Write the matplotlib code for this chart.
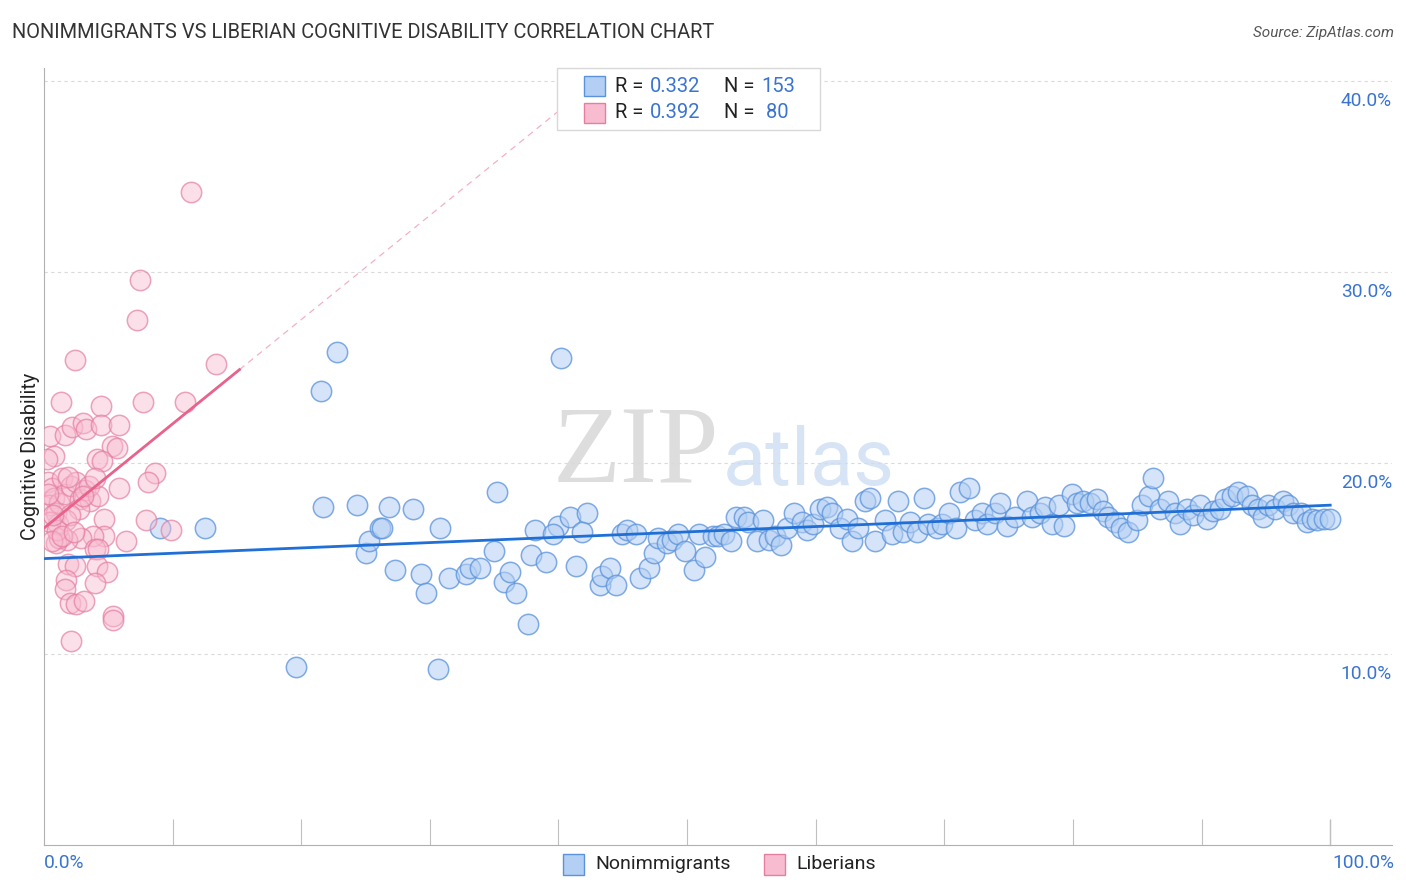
import matplotlib
matplotlib.use("Agg")
import matplotlib.pyplot as plt
from matplotlib.patches import Rectangle
from matplotlib.colors import to_rgba
import numpy as np

plt.rcParams['font.family'] = ['Roboto', 'DejaVu Sans']

# nonimmigrants (x = % share, y = cognitive disability %)
blue_x = [9.0, 12.5, 19.6, 21.5, 22.8, 21.7, 24.3, 25.0, 25.3, 26.1, 26.3, 26.8, 27.3, 28.7,
          29.3, 29.7, 30.6, 30.8, 31.5, 32.8, 33.1, 33.9, 35.2, 35.0, 35.8, 36.2, 36.7, 37.6,
          40.2, 38.2, 37.9, 39.0, 40.0, 39.6, 40.9, 42.2, 41.8, 41.4, 43.2, 43.4, 44.0, 44.5,
          44.9, 45.3, 46.0, 46.3, 47.0, 47.4, 47.7, 48.4, 48.8, 49.3, 49.8, 50.5, 50.9, 51.4,
          52.0, 52.4, 52.9, 53.4, 53.8, 54.4, 54.7, 55.4, 55.9, 56.4, 56.8, 57.3, 57.8, 58.3,
          58.9, 59.3, 59.8, 60.3, 60.9, 61.3, 61.9, 62.4, 62.8, 63.3, 63.8, 64.2, 64.6,
          65.4, 65.9, 66.4, 66.8, 67.3, 67.9, 68.4, 68.7, 69.4, 69.8, 70.4, 70.9, 71.2, 71.9,
          72.4, 72.9, 73.3, 73.9, 74.3, 74.9, 75.5, 76.4, 76.8, 77.4, 77.8, 78.4, 78.9, 79.3,
          79.9, 80.3, 80.8, 81.3, 81.9, 82.3, 82.7, 83.3, 83.7, 84.3, 85.0, 85.4, 85.9, 86.2,
          86.8, 87.4, 87.9, 88.3, 88.9, 89.3, 89.9, 90.4, 90.9, 91.4, 91.8, 92.4, 92.8, 93.5,
          93.9, 94.4, 94.8, 95.2, 95.7, 96.3, 96.7, 97.1, 97.7, 98.2, 98.6, 99.0, 99.5, 100.0]
blue_y = [16.6, 16.6, 9.3, 23.8, 25.8, 17.7, 17.8, 15.3, 15.9, 16.6, 16.6, 17.7, 14.4, 17.6,
          14.2, 13.2, 9.2, 16.6, 14.0, 14.2, 14.5, 14.5, 18.5, 15.4, 13.8, 14.3, 13.2, 11.6,
          25.5, 16.5, 15.2, 14.8, 16.7, 16.3, 17.2, 17.4, 16.4, 14.6, 13.6, 14.1, 14.5, 13.6,
          16.3, 16.5, 16.3, 14.0, 14.5, 15.3, 16.1, 15.8, 16.0, 16.3, 15.4, 14.4, 16.3, 15.1,
          16.2, 16.2, 16.3, 15.9, 17.2, 17.2, 16.9, 15.9, 17.0, 16.0, 16.2, 15.7, 16.6, 17.4,
          16.9, 16.5, 16.8, 17.6, 17.7, 17.4, 16.6, 17.1, 15.9, 16.6, 18.0, 18.2, 15.9,
          17.0, 16.3, 18.0, 16.4, 16.9, 16.4, 18.2, 16.8, 16.6, 16.8, 17.4, 16.6, 18.5, 18.7,
          17.0, 17.4, 16.8, 17.4, 17.9, 16.7, 17.2, 18.0, 17.2, 17.4, 17.7, 16.8, 17.8, 16.7,
          18.4, 17.9, 18.0, 17.9, 18.1, 17.5, 17.2, 16.9, 16.6, 16.4, 17.0, 17.8, 18.3, 19.2,
          17.6, 18.0, 17.4, 16.8, 17.6, 17.3, 17.8, 17.1, 17.5, 17.6, 18.1, 18.3, 18.5, 18.3,
          17.8, 17.6, 17.2, 17.8, 17.6, 18.0, 17.8, 17.4, 17.4, 16.9, 17.1, 17.0, 17.1, 17.1]

# liberians
pink_x = [11.4, 7.5, 7.2, 2.4, 13.4, 1.3, 4.4, 7.7, 11.0, 0.5, 1.6, 2.2, 3.0, 3.3, 4.4, 5.8,
          0.8, 5.3, 5.7, 4.1, 4.5, 8.6, 5.8, 8.1, 7.9, 9.9, 6.4, 4.7, 4.7, 3.8, 2.9, 4.0, 4.2,
          1.8, 0.9, 1.2, 1.9, 2.4, 4.1, 4.9, 1.7, 1.6, 4.0, 2.0, 2.5, 3.1, 5.4, 5.4, 2.1,
          0.3, 0.6, 0.8, 0.4, 0.9, 1.1, 1.2, 1.4, 1.6, 2.1, 2.5, 2.8, 3.2, 3.6, 2.7, 1.7,
          0.5, 1.0, 0.6, 1.4, 2.0, 3.5, 4.2, 0.2, 0.3, 3.0, 1.9, 0.7, 2.3, 4.0]
pink_y = [34.2, 29.6, 27.5, 25.4, 25.2, 23.2, 23.0, 23.2, 23.2, 21.4, 21.5, 21.9, 22.1, 21.8,
          22.0, 22.0, 20.4, 20.9, 20.8, 20.2, 20.1, 19.5, 18.7, 19.0, 17.0, 16.5, 15.9, 17.1,
          16.2, 16.2, 16.1, 15.5, 15.5, 16.0, 15.8, 16.1, 14.7, 14.6, 14.6, 14.3, 13.9, 13.4,
          13.7, 12.7, 12.6, 12.8, 12.0, 11.8, 10.7,
          19.0, 18.7, 18.2, 17.8, 17.4, 16.8, 17.9, 19.2, 18.4, 18.8, 19.0, 18.1, 18.6, 18.0,
          17.6, 17.0, 16.9, 16.5, 15.9, 16.2, 17.3, 18.8, 18.3, 20.2, 18.4, 18.3, 19.3, 17.3,
          16.4, 19.2]

blue_stats = ("0.332", "153")
pink_stats = ("0.392", " 80")

blue_face = "#b3cff3"
blue_edge = "#5a92dc"
blue_line = "#1f6fd6"
pink_face = "#f8bcd0"
pink_edge = "#e57fa2"
pink_line = "#e8628c"
lab_blue = "#3a74d0"

fig = plt.figure(figsize=(14.06, 8.92), dpi=100)
ax = fig.add_axes([0.0313, 0.0527, 0.9587, 0.8711])
ax.set_xlim(0, 104.8)
ax.set_ylim(0, 40.7)

# watermark
ax.text(52.5, 20.4, "ZIP", fontsize=80, family=["Liberation Serif", "DejaVu Serif"],
        color="#dddddd", ha="right", va="center", zorder=0)
ax.text(52.8, 20.0, "atlas", fontsize=57, color="#d6e4f5", ha="left", va="center", zorder=0)

# grid
for g in [10, 20, 30, 40]:
    ax.axhline(g, color="#dadada", lw=0.8, ls=(0, (3, 3)), zorder=1)
    ax.text(104.8, g - 0.55, f"{g:.1f}%", ha="right", va="top", fontsize=13.8, color=lab_blue)

ax.scatter(blue_x, blue_y, s=215, facecolor=to_rgba(blue_face, 0.55),
           edgecolor=to_rgba(blue_edge, 0.75), lw=1.1, zorder=3)
ax.scatter(pink_x, pink_y, s=215, facecolor=to_rgba(pink_face, 0.45),
           edgecolor=to_rgba(pink_edge, 0.7), lw=1.1, zorder=3)

# trend lines
bx = np.array([0, 100])
ax.plot(bx, 15.0 + 0.028 * bx, color=blue_line, lw=2, zorder=4)
px = np.array([0, 15.2])
ax.plot(px, 16.6 + 0.546 * px, color=pink_line, lw=2, zorder=4)
pxd = np.array([15.2, 44.5])
ax.plot(pxd, 16.6 + 0.546 * pxd, color=pink_line, lw=0.9, ls=(0, (5, 4)), alpha=0.5, zorder=4)

for s in ["top", "right"]:
    ax.spines[s].set_visible(False)
for s in ["left", "bottom"]:
    ax.spines[s].set_color("#b0b0b0")
ax.set_xticks(np.arange(10, 101, 10))
ax.tick_params(axis="x", direction="in", length=19, color="#c0c0c0", labelbottom=False)
ax.set_yticks([])
ax.plot([100, 100], [0, 1.3], color="#c0c0c0", lw=1, clip_on=False)

fig.text(44 / 1406, 1 - 863 / 892, "0.0%", color=lab_blue, fontsize=13.8, ha="left", va="center")
fig.text(1394 / 1406, 1 - 863 / 892, "100.0%", color=lab_blue, fontsize=13.8, ha="right", va="center")

ax.set_ylabel("Cognitive Disability", fontsize=14.2, color="#222222", labelpad=3)

fig.text(12 / 1406, 1 - 33 / 892, "NONIMMIGRANTS VS LIBERIAN COGNITIVE DISABILITY CORRELATION CHART",
         fontsize=14.4, color="#333333", ha="left", va="center")
fig.text(1394 / 1406, 1 - 33 / 892, "Source: ZipAtlas.com", fontsize=11, style="italic",
         color="#555555", ha="right", va="center")

# top legend
fig.patches.append(Rectangle((557 / 1406, 1 - 130 / 892), 263 / 1406, 62 / 892,
                             transform=fig.transFigure, facecolor="white", edgecolor="#d8d8d8", lw=1))
for i, (face, edge, (r, n)) in enumerate([(blue_face, blue_edge, blue_stats),
                                          (pink_face, pink_edge, pink_stats)]):
    yc = 86 + i * 27
    fig.patches.append(Rectangle((584 / 1406, 1 - (yc + 10) / 892), 21 / 1406, 20 / 892,
                                 transform=fig.transFigure, facecolor=face, edgecolor=edge, lw=1))
    fig.text(615 / 1406, 1 - yc / 892, "R = ", fontsize=14.5, color="#222222", va="center")
    fig.text(650 / 1406, 1 - yc / 892, r, fontsize=14.5, color=lab_blue, va="center")
    fig.text(724 / 1406, 1 - yc / 892, "N = ", fontsize=14.5, color="#222222", va="center")
    fig.text(761 / 1406, 1 - yc / 892, n, fontsize=14.5, color=lab_blue, va="center")

# bottom legend
for x0, face, edge, name in [(563, blue_face, blue_edge, "Nonimmigrants"),
                             (764, pink_face, pink_edge, "Liberians")]:
    fig.patches.append(Rectangle((x0 / 1406, 1 - 875 / 892), 21 / 1406, 21 / 892,
                                 transform=fig.transFigure, facecolor=face, edgecolor=edge, lw=1))
    fig.text((x0 + 32) / 1406, 1 - 864 / 892, name, fontsize=14, color="#222222", va="center")

fig.savefig("out.png", dpi=100)
